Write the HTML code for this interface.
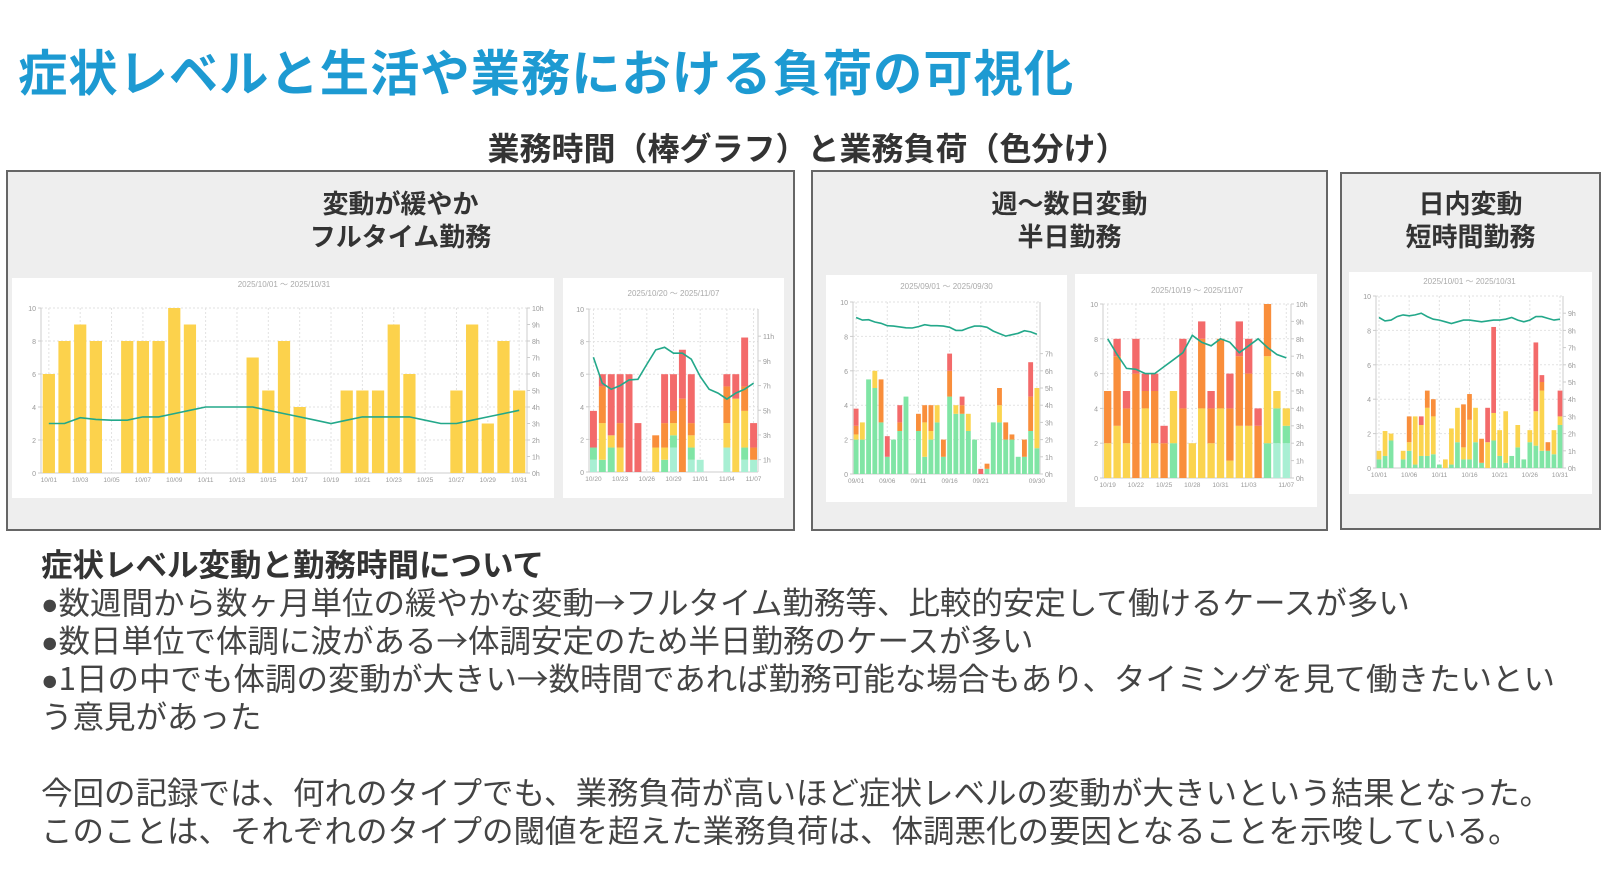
<!DOCTYPE html>
<html><head><meta charset="utf-8">
<style>
*{margin:0;padding:0;box-sizing:border-box}
body{width:1615px;height:889px;background:#fff;position:relative;overflow:hidden;font-family:"Liberation Sans","Noto Sans CJK JP",sans-serif}
.abs{position:absolute}
.title{left:18px;top:35px;font-size:49.3px;font-weight:bold;color:#1d9ad2;white-space:nowrap;letter-spacing:1px}
.sub{left:0;width:1615px;top:124px;text-align:center;font-size:32px;font-weight:bold;color:#333;padding-left:0}
.panel{background:#eeeeee;border:2px solid #666}
.ph{font-size:26px;font-weight:bold;color:#333;text-align:center;line-height:33px;width:100%}
.box{background:#fff}
.txt{left:41px;top:544px;font-size:31.5px;color:#444;line-height:38px;white-space:nowrap;font-family:"Noto Sans CJK JP","Liberation Sans",sans-serif}
.txt b{color:#333}
.ln{display:block;height:38px;line-height:38px;overflow:visible}
.bl{font-family:"Liberation Sans",sans-serif;font-size:29px;line-height:0;vertical-align:baseline}
</style></head><body>
<div class="abs title">症状レベルと生活や業務における負荷の可視化</div>
<div class="abs sub">業務時間（棒グラフ）と業務負荷（色分け）</div>

<div class="abs panel" style="left:6px;top:170px;width:789px;height:361px">
 <div class="ph" style="margin-top:16px">変動が緩やか<br>フルタイム勤務</div>
</div>
<div class="abs panel" style="left:811px;top:170px;width:517px;height:361px">
 <div class="ph" style="margin-top:16px">週〜数日変動<br>半日勤務</div>
</div>
<div class="abs panel" style="left:1340px;top:172px;width:261px;height:358px">
 <div class="ph" style="margin-top:14px">日内変動<br>短時間勤務</div>
</div>
<div class="abs box" style="left:12px;top:278px;width:542px;height:220px"></div>
<div class="abs box" style="left:563px;top:278px;width:221px;height:220px"></div>
<div class="abs box" style="left:826px;top:275px;width:241px;height:227px"></div>
<div class="abs box" style="left:1075px;top:274px;width:242px;height:233px"></div>
<div class="abs box" style="left:1349px;top:272px;width:243px;height:222px"></div>

<svg id="cs" class="abs" style="left:0;top:0" width="1615" height="889"></svg>

<div class="abs txt">
<span class="ln"><b>症状レベル変動と勤務時間について</b></span>
<span class="ln"><span class="bl">●</span>数週間から数ヶ月単位の緩やかな変動→フルタイム勤務等、比較的安定して働けるケースが多い</span>
<span class="ln"><span class="bl">●</span>数日単位で体調に波がある→体調安定のため半日勤務のケースが多い</span>
<span class="ln"><span class="bl">●</span>1日の中でも体調の変動が大きい→数時間であれば勤務可能な場合もあり、タイミングを見て働きたいとい</span>
<span class="ln">う意見があった</span>
<span class="ln"></span>
<span class="ln">今回の記録では、何れのタイプでも、業務負荷が高いほど症状レベルの変動が大きいという結果となった。</span>
<span class="ln">このことは、それぞれのタイプの閾値を超えた業務負荷は、体調悪化の要因となることを示唆している。</span>
</div>

<script>
// Chart 1: 2025/10/01-10/31 full-time
const c1Hours=[6,8,9,8,0,8,8,8,10,9,0,0,0,7,5,8,4,0,0,5,5,5,9,6,0,0,5,9,3,8,5];
const c1Level=[3,3,3.35,3.25,3.2,3.2,3.4,3.4,3.6,3.8,4,4,4,4,3.8,3.6,3.4,3.2,3,3.2,3.4,3.4,3.4,3.4,3.2,3,3,3.2,3.4,3.6,3.8];
// Chart 2: 2025/10/20-11/07
const c2Mint  =[.75,0,0,0,0,0,0,0,0,1.5,0,.75,.75,0,0,1.5,0,.75,.75];
const c2Green =[.75,.75,1.5,0,0,0,0,0,.75,.75,0,.75,0,0,0,0,0,.75,0];
const c2Yellow=[0,2.25,.75,1.5,0,0,0,1.5,.75,.75,0,.75,0,0,0,1.5,4.5,2.25,0];
const c2Orange=[0,2.25,0,1.5,0,0,0,.75,1.5,.75,4.5,.75,0,0,0,2.25,0,1.5,.75];
const c2Red   =[2.25,.75,3.75,3,6,3,0,0,3,2.25,3,3,0,0,0,.75,1.5,3,1.5];
const c2Level =[7.04,5.45,5.08,5.3,5.65,5.69,6.6,7.49,7.65,7.29,7.29,6.92,5.86,5.08,4.84,4.47,4.84,5.08,5.45];
// Chart 3: 2025/09/01-09/30
const c3Green =[2,2,5.5,5,3,1,2,2.5,4.5,0,2.5,1,2,3,1,4.5,3.5,3.5,2.5,2,0,.3,3,3,2,2,1,1,2.5,1.5];
const c3Yellow=[.3,1,0,1,0,0,0,0,0,0,0,2,.5,1,0,0,.5,0,1,0,0,0,0,1,0,0,0,0,0,3.5];
const c3Orange=[.5,0,0,0,2.5,0,0,.5,0,0,1,1,1.5,0,1,1.5,0,.5,0,0,0,.3,0,1,1,.3,0,1,2,0];
const c3Red   =[1,0,0,0,0,1.2,0,1,0,0,0,0,0,0,0,1,0,.5,0,0,.3,0,0,0,0,0,0,0,2,0];
const c3Level =[9.1,8.95,8.97,8.84,8.76,8.62,8.6,8.55,8.5,8.49,8.57,8.68,8.62,8.62,8.6,8.53,8.35,8.35,8.49,8.6,8.6,8.53,8.31,8.16,8.02,8.1,8.18,8.33,8.26,8.12];
// Chart 4: 2025/10/19-11/07
const c4Mint  =[0,0,0,0,0,0,0,0,0,0,0,0,0,0,0,0,0,0,2,2];
const c4Green =[0,0,0,0,0,0,0,2,0,0,0,0,0,0,0,0,0,2,2,1];
const c4Yellow=[2,3,2,0,4,2,0,3,0,2,4,2,4,1,3,3,0,5,1,1];
const c4Orange=[3,4,2,6,1,3,2,0,4,0,4,2,4,3,4,3,3,3,0,0];
const c4Red   =[0,1,1,2,1,1,1,0,4,0,1,1,0,2,2,2,1,0,0,0];
const c4Level =[8,7.1,6.3,6.25,6,6,6.4,6.8,7.2,8.2,7.8,7.6,8,7.8,7.2,7.6,8,7.5,7.1,6.9];
// Chart 5: 2025/10/01-10/31
const c5Green =[.5,.7,1.6,0,.5,1,.2,.7,.7,.8,.2,0,.2,1.5,.5,.5,1.5,.3,0,1.6,.7,.3,.7,1.2,.5,1.5,1.3,1,1,.8,2.5];
const c5Yellow=[.5,1.45,.4,0,.5,.5,2.8,1.8,2.8,2.2,0,.5,2.1,2,.7,2.3,2,0,1.5,1.6,1.5,3,0,1.3,0,.7,2,3.5,0,1.4,.5];
const c5Orange=[0,0,0,0,0,1.5,0,0,1,1,0,0,0,0,2.5,1.5,0,1.4,0,0,0,0,0,0,0,0,0,.5,.5,0,0];
const c5Red   =[0,0,0,0,0,0,0,.5,0,0,0,0,0,0,0,0,0,0,2,5,0,0,0,0,0,0,4,.4,0,0,1.5];
const c5Level =[8.75,8.55,8.6,8.8,8.9,8.85,8.9,9,8.8,8.65,8.6,8.5,8.4,8.5,8.6,8.6,8.55,8.5,8.55,8.6,8.6,8.65,8.75,8.6,8.5,8.6,8.8,8.8,8.7,8.6,8.65];
const c1Ticks=["10/01","10/03","10/05","10/07","10/09","10/11","10/13","10/15","10/17","10/19","10/21","10/23","10/25","10/27","10/29","10/31"];
const c2Ticks=["10/20","10/23","10/26","10/29","11/01","11/04","11/07"];
const c3Ticks=["09/01","09/06","09/11","09/16","09/21","09/30"];
const c4Ticks=["10/19","10/22","10/25","10/28","10/31","11/03","11/07"];
const c5Ticks=["10/01","10/06","10/11","10/16","10/21","10/26","10/31"];
const leftTicks=[0,2,4,6,8,10];

const COL={mint:"#a8efd3",green:"#80e5a5",yellow:"#fbd44f",orange:"#f98e3b",red:"#f36a6a"};
const svg=document.getElementById('cs');
const NS="http://www.w3.org/2000/svg";
function mk(tag,at,name){const e=document.createElementNS(NS,tag);for(const k in at)e.setAttribute(k,at[k]);


svg.appendChild(e);return e;}

function drawChart(id,box,title,n,tickIdx,tickLabels,series,level,rTicks,rMax){
 const {l,r,t,b}=box;const slot=(r-l)/n;
 const x=i=>l+(i+0.5)*slot;const y=v=>b-(v/10)*(b-t);
 const tt=mk('text',{x:(l+r)/2,y:box.ty,'text-anchor':'middle','font-size':8,fill:'#aaa'},id+'-title');tt.textContent=title;
 leftTicks.forEach(v=>{mk('line',{x1:l,x2:r,y1:y(v),y2:y(v),stroke:'#e2e2e2','stroke-dasharray':'2,2','stroke-width':1},id+'-hgrid');
  mk('line',{x1:l-3,x2:l,y1:y(v),y2:y(v),stroke:'#ccc'},id+'-ytick');
  const tx=mk('text',{x:l-5,y:y(v)+3,'text-anchor':'end','font-size':7,fill:'#999'},id+'-ytick-label');tx.textContent=v;});
 tickIdx.forEach((i,k)=>{mk('line',{x1:x(i),x2:x(i),y1:t,y2:b,stroke:'#e2e2e2','stroke-dasharray':'2,2'},id+'-vgrid');
  const tx=mk('text',{x:x(i),y:b+9,'text-anchor':'middle','font-size':6.5,fill:'#999'},id+'-xtick-label');tx.textContent=tickLabels[k];});
 mk('line',{x1:l,x2:l,y1:t,y2:b,stroke:'#ccc'},id+'-y-axis');
 mk('line',{x1:r,x2:r,y1:t,y2:b,stroke:'#ccc'},id+'-y2-axis');
 mk('line',{x1:l,x2:r,y1:b,y2:b,stroke:'#ccc'},id+'-x-axis');
 rTicks.forEach(h=>{const yy=b-(h/rMax)*(b-t);mk('line',{x1:r,x2:r+3,y1:yy,y2:yy,stroke:'#ccc'},id+'-y2-tick');
  const tx=mk('text',{x:r+5,y:yy+3,'font-size':7,fill:'#999'},id+'-y2-tick-label');tx.textContent=h+'h';});
 const bw=slot*0.78;
 for(let i=0;i<n;i++){let acc=0;series.forEach(s=>{const v=s.data[i];if(v>0){
  mk('rect',{x:x(i)-bw/2,y:y(acc+v),width:bw,height:y(acc)-y(acc+v),fill:s.color},id+'-bar-'+s.name);acc+=v;}});}
 const pts=level.map((v,i)=>x(i).toFixed(1)+','+y(v).toFixed(1)).join(' ');
 mk('polyline',{points:pts,fill:'none',stroke:'#23a88a','stroke-width':1.6},id+'-level-line');
}
const r11=[0,1,2,3,4,5,6,7,8,9,10];
drawChart('chart1',{l:41,r:527,t:308,b:473,ty:287},'2025/10/01 〜 2025/10/31',31,
 [0,2,4,6,8,10,12,14,16,18,20,22,24,26,28,30],c1Ticks,[{name:'hours',color:'#fcd24c',data:c1Hours}],c1Level,r11,10);
drawChart('chart2',{l:589,r:758,t:309,b:472,ty:296},'2025/10/20 〜 2025/11/07',19,[0,3,6,9,12,15,18],c2Ticks,
 [{name:'mint',color:COL.mint,data:c2Mint},{name:'green',color:COL.green,data:c2Green},{name:'yellow',color:COL.yellow,data:c2Yellow},{name:'orange',color:COL.orange,data:c2Orange},{name:'red',color:COL.red,data:c2Red}],c2Level,[1,3,5,7,9,11],13.2);
drawChart('chart3',{l:853,r:1040,t:302,b:474,ty:289},'2025/09/01 〜 2025/09/30',30,[0,5,10,15,20,29],c3Ticks,
 [{name:'green',color:COL.green,data:c3Green},{name:'yellow',color:COL.yellow,data:c3Yellow},{name:'orange',color:COL.orange,data:c3Orange},{name:'red',color:COL.red,data:c3Red}],c3Level,[0,1,2,3,4,5,6,7],10);
drawChart('chart4',{l:1103,r:1291,t:304,b:478,ty:293},'2025/10/19 〜 2025/11/07',20,[0,3,6,9,12,15,19],c4Ticks,
 [{name:'mint',color:COL.mint,data:c4Mint},{name:'green',color:COL.green,data:c4Green},{name:'yellow',color:COL.yellow,data:c4Yellow},{name:'orange',color:COL.orange,data:c4Orange},{name:'red',color:COL.red,data:c4Red}],c4Level,r11,10);
drawChart('chart5',{l:1376,r:1563,t:296,b:468,ty:284},'2025/10/01 〜 2025/10/31',31,[0,5,10,15,20,25,30],c5Ticks,
 [{name:'green',color:COL.green,data:c5Green},{name:'yellow',color:COL.yellow,data:c5Yellow},{name:'orange',color:COL.orange,data:c5Orange},{name:'red',color:COL.red,data:c5Red}],c5Level,[0,1,2,3,4,5,6,7,8,9],10);
</script>
</body></html>
